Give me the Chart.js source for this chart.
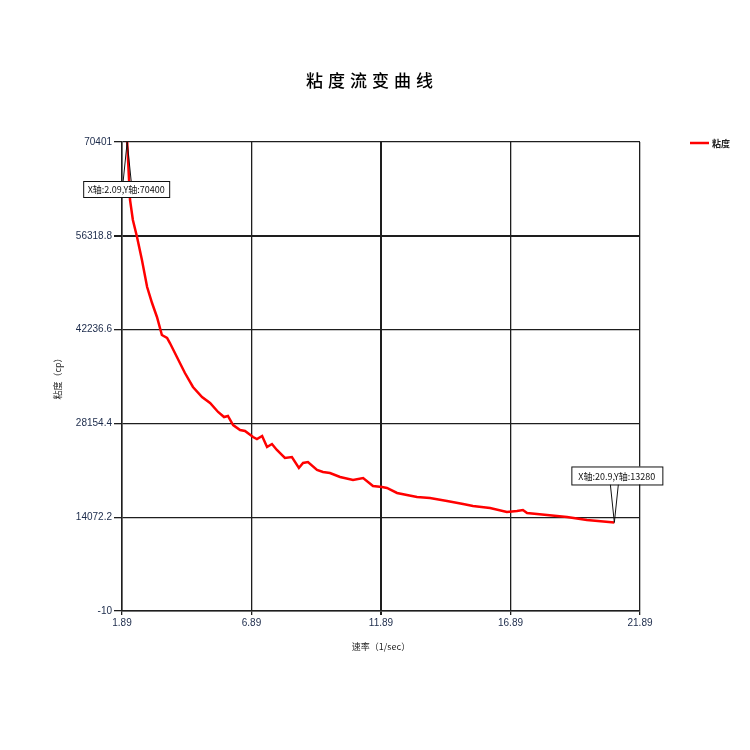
<!DOCTYPE html>
<html><head><meta charset="utf-8">
<script src="https://cdn.jsdelivr.net/npm/chart.js@4.4.0/dist/chart.umd.min.js"></script>
<style>html,body{margin:0;padding:0;background:#fff}#wrap{width:750px;height:750px;position:relative}</style>
</head><body><div id="wrap"><canvas id="c"></canvas></div>
<script>
const chartTitle = '粘度流变曲线';
const seriesName = '粘度';
const xTitle = '速率（1/sec）';
const yTitle = '粘度（cp）';
const shearRate = [2.09,2.20,2.31,2.47,2.66,2.86,3.05,3.24,3.43,3.63,3.74,4.01,4.32,4.63,4.98,5.29,5.60,5.83,5.98,6.18,6.45,6.64,6.95,7.10,7.30,7.49,7.68,7.87,8.18,8.45,8.72,8.88,9.07,9.42,9.65,9.92,10.31,10.81,11.20,11.58,11.93,12.12,12.51,12.89,13.28,13.78,14.44,15.06,15.44,16.10,16.75,17.14,17.37,17.53,18.30,19.07,19.84,20.90];
const viscosity = [70400,61700,58690,56140,52690,48630,46230,44130,41430,40980,40220,38120,35720,33620,32120,31220,29870,29110,29270,27910,27160,27010,26110,25810,26260,24610,25060,24160,22960,23110,21460,22210,22360,21160,20860,20710,20110,19660,19960,18760,18610,18460,17710,17410,17110,16960,16500,16050,15750,15450,14850,15000,15150,14700,14400,14100,13650,13280];
const xTickValues = [1.89, 6.89, 11.89, 16.89, 21.89];
const xTickLabels = ['1.89','6.89','11.89','16.89','21.89'];
const yTickValues = [-10, 14072.2, 28154.4, 42236.6, 56318.8, 70401];
const yTickLabels = ['-10','14072.2','28154.4','42236.6','56318.8','70401'];
const calloutLabels = ['X轴:2.09,Y轴:70400', 'X轴:20.9,Y轴:13280'];

const points = shearRate.map((x, i) => ({x: x, y: viscosity[i]}));

const decor = {
  id: 'decor',
  afterDraw(chart) {
    const ctx = chart.ctx;
    const xs = chart.scales.x, ys = chart.scales.y;
    ctx.save();
    // title
    ctx.fillStyle = '#000';
    ctx.font = '500 17px "Noto Sans CJK SC"';
    ctx.letterSpacing = '5px';
    ctx.textAlign = 'center';
    ctx.textBaseline = 'middle';
    ctx.fillText(chartTitle, 372, 81);
    ctx.letterSpacing = '0px';
    // legend
    const lx = chart.chartArea.right + 50, ly = chart.chartArea.top + 1;
    ctx.strokeStyle = '#ff0000';
    ctx.lineWidth = 2.5;
    ctx.beginPath(); ctx.moveTo(lx, ly); ctx.lineTo(lx + 19, ly); ctx.stroke();
    ctx.fillStyle = '#222';
    ctx.font = 'bold 9px "Noto Sans CJK SC"';
    ctx.textAlign = 'left';
    ctx.fillText(seriesName, lx + 22, ly + 1);
    // callouts
    const n = shearRate.length;
    const p1 = {x: xs.getPixelForValue(shearRate[0]), y: ys.getPixelForValue(viscosity[0])};
    const p2 = {x: xs.getPixelForValue(shearRate[n-1]), y: ys.getPixelForValue(viscosity[n-1])};
    ctx.font = '9px "Noto Sans CJK SC"';
    ctx.lineWidth = 1;
    ctx.strokeStyle = '#111';
    // callout 1 (box below point)
    {
      const bx = p1.x - 44, by = p1.y + 39, bw = 86, bh = 16;
      ctx.beginPath(); ctx.moveTo(p1.x - 4, by); ctx.lineTo(p1.x, p1.y); ctx.lineTo(p1.x + 4, by); ctx.stroke();
      ctx.fillStyle = '#fff';
      ctx.fillRect(bx, by, bw, bh);
      ctx.strokeRect(bx + 0.5, by + 0.5, bw, bh);
      ctx.fillStyle = '#111';
      ctx.textAlign = 'center';
      ctx.fillText(calloutLabels[0], bx + bw / 2, by + bh / 2 + 1);
    }
    // callout 2 (box above point)
    {
      const bx = p2.x - 43, by = p2.y - 56, bw = 91, bh = 18;
      ctx.beginPath(); ctx.moveTo(p2.x - 4, by + bh); ctx.lineTo(p2.x, p2.y); ctx.lineTo(p2.x + 4, by + bh); ctx.stroke();
      ctx.fillStyle = '#fff';
      ctx.fillRect(bx, by, bw, bh);
      ctx.strokeRect(bx + 0.5, by + 0.5, bw, bh);
      ctx.fillStyle = '#111';
      ctx.textAlign = 'center';
      ctx.fillText(calloutLabels[1], bx + bw / 2, by + bh / 2 + 1);
    }
    ctx.restore();
  }
};

new Chart(document.getElementById('c'), {
  type: 'line',
  data: {
    datasets: [{
      label: seriesName,
      data: points,
      borderColor: '#ff0000',
      borderWidth: 2.5,
      pointRadius: 0,
      tension: 0,
      fill: false
    }]
  },
  options: {
    responsive: true,
    maintainAspectRatio: false,
    animation: false,
    layout: {padding: {left: 0, right: 110, top: 142, bottom: 89}},
    plugins: {legend: {display: false}, title: {display: false}, tooltip: {enabled: false}},
    scales: {
      x: {
        type: 'linear',
        min: 1.89, max: 21.89,
        afterFit: s => { s.height = 50; },
        afterBuildTicks: s => { s.ticks = xTickValues.map(v => ({value: v})); },
        ticks: {
          autoSkip: false, maxRotation: 0, padding: 2,
          color: '#1b2a4a',
          font: {family: 'Liberation Sans', size: 10},
          callback: (v, i) => xTickLabels[i]
        },
        grid: {color: '#1e1e1e', lineWidth: c => (c.index === 2 ? 2 : 1.3), tickLength: 4},
        border: {color: '#1e1e1e', width: 1.5},
        title: {display: true, text: xTitle, color: '#222', font: {family: 'Noto Sans CJK SC', size: 9}, padding: {top: 0, bottom: 9}}
      },
      y: {
        type: 'linear',
        min: -10, max: 70401,
        afterFit: s => { s.width = 122; },
        afterBuildTicks: s => { s.ticks = yTickValues.map(v => ({value: v})); },
        ticks: {
          autoSkip: false, padding: 2,
          color: '#1b2a4a',
          font: {family: 'Liberation Sans', size: 10},
          callback: (v, i) => yTickLabels[i]
        },
        grid: {color: '#1e1e1e', lineWidth: c => (c.index === 4 ? 2 : 1.3), tickLength: 8},
        border: {color: '#1e1e1e', width: 1.5},
        title: {display: true, text: yTitle, color: '#222', font: {family: 'Noto Sans CJK SC', size: 9}, padding: {top: 52, bottom: 0}}
      }
    }
  },
  plugins: [decor]
});
</script>
</body></html>
